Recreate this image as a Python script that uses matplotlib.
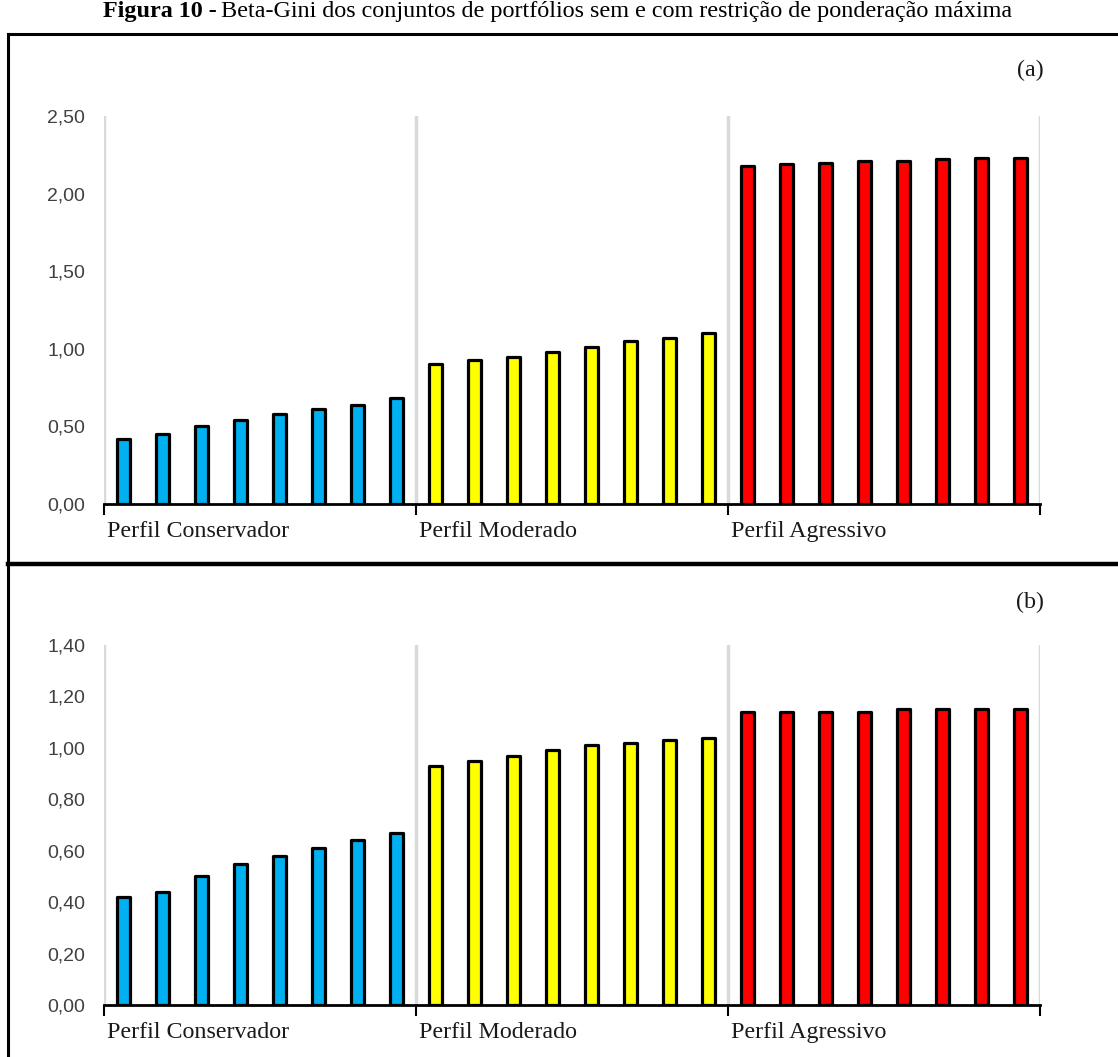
import matplotlib

matplotlib.use("Agg")
import matplotlib.pyplot as plt
from matplotlib.lines import Line2D
from matplotlib.ticker import FuncFormatter

# Beta-Gini por perfil, sem restrição (a) e com restrição de ponderação máxima (b)
PERFIS = ["Perfil Conservador", "Perfil Moderado", "Perfil Agressivo"]
CORES = ["#00B0F0", "#FFFF00", "#FF0000"]

a_conservador = [0.42, 0.45, 0.50, 0.54, 0.58, 0.61, 0.64, 0.68]
a_moderado = [0.90, 0.93, 0.95, 0.98, 1.01, 1.05, 1.07, 1.10]
a_agressivo = [2.18, 2.19, 2.20, 2.21, 2.21, 2.22, 2.23, 2.23]

b_conservador = [0.42, 0.44, 0.50, 0.55, 0.58, 0.61, 0.64, 0.67]
b_moderado = [0.93, 0.95, 0.97, 0.99, 1.01, 1.02, 1.03, 1.04]
b_agressivo = [1.14, 1.14, 1.14, 1.14, 1.15, 1.15, 1.15, 1.15]

YTICKS_A = [0.0, 0.5, 1.0, 1.5, 2.0, 2.5]
YTICKS_B = [0.0, 0.2, 0.4, 0.6, 0.8, 1.0, 1.2, 1.4]

W, H = 1118, 1057
SERIF = "Liberation Serif"
SANS = "Liberation Sans"


def fx(px):
    return px / W


def fy(py):
    return 1 - py / H


def painel(fig, rect, grupos, yticks, rotulo, rotulo_y):
    ax = fig.add_axes(rect)
    n = len(grupos[0])
    for g, (valores, cor) in enumerate(zip(grupos, CORES)):
        xs = [g * n + i for i in range(n)]
        barras = ax.bar(xs, valores, width=0.33, color=cor, edgecolor="black",
                        linewidth=2.3, zorder=3)
        for b in barras:
            b.set_joinstyle("round")
    limites = [g * n - 0.5 for g in range(len(grupos) + 1)]
    for x in limites:
        ax.axvline(x, color="#D9D9D9", linewidth=2.5, zorder=1)
    ax.set_xlim(limites[0], limites[-1])
    ax.set_ylim(yticks[0], yticks[-1])
    ax.set_yticks(yticks)
    ax.yaxis.set_major_formatter(
        FuncFormatter(lambda v, _: f"{v:.2f}".replace(".", ",")))
    ax.set_xticks(limites)
    ax.set_xticklabels([])
    ax.tick_params(axis="x", direction="out", length=8, width=1.5,
                   color="black")
    ax.tick_params(axis="y", length=0, pad=13.5, labelsize=14,
                   labelcolor="#404040")
    for lbl in ax.get_yticklabels():
        lbl.set_fontfamily(SANS)
    for lado in ["top", "right", "left"]:
        ax.spines[lado].set_visible(False)
    ax.spines["bottom"].set_linewidth(2)
    ax.spines["bottom"].set_zorder(4)
    for g, nome in enumerate(PERFIS):
        ax.annotate(nome, xy=(limites[g], 0), xycoords=("data", "axes fraction"),
                    xytext=(2, -20), textcoords="offset points",
                    ha="left", va="center", fontsize=17.3, family=SERIF,
                    color="#1a1a1a")
    fig.text(fx(1030), fy(rotulo_y), rotulo, ha="center", va="center",
             fontsize=17.3, family=SERIF, color="#1a1a1a")
    return ax


fig = plt.figure(figsize=(W / 100, H / 100), dpi=100)

painel(fig, [fx(104), fy(504), fx(936), 388 / H],
       [a_conservador, a_moderado, a_agressivo], YTICKS_A, "(a)", 70)
painel(fig, [fx(104), fy(1005), fx(936), 360 / H],
       [b_conservador, b_moderado, b_agressivo], YTICKS_B, "(b)", 602)

# moldura dos dois painéis
moldura = dict(color="black", solid_capstyle="projecting")
fig.add_artist(Line2D([fx(8), fx(8)], [fy(34), fy(H + 5)], linewidth=2.2, **moldura))
fig.add_artist(Line2D([fx(8), fx(W + 5)], [fy(34), fy(34)], linewidth=2.2, **moldura))
fig.add_artist(Line2D([fx(8), fx(W + 5)], [fy(564), fy(564)], linewidth=3.2, **moldura))

# título: parte em negrito seguida do texto normal
renderer = fig.canvas.get_renderer()
t1 = fig.text(fx(103), fy(12), "Figura 10 -", ha="left", va="center",
              fontsize=17.4, fontweight="bold", family=SERIF)
ext = t1.get_window_extent(renderer)
fig.text(ext.x1 / W + fx(4), fy(12),
         "Beta-Gini dos conjuntos de portfólios sem e com restrição de ponderação máxima",
         ha="left", va="center", fontsize=17.4, family=SERIF)

fig.savefig("out.png", dpi=100)
